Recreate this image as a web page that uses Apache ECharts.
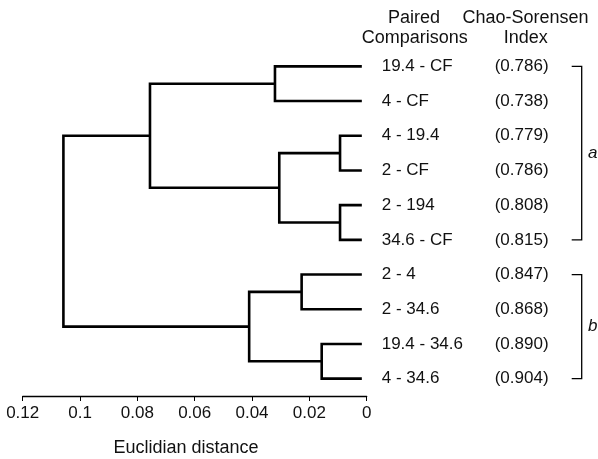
<!DOCTYPE html>
<html>
<head>
<meta charset="utf-8">
<script src="https://cdn.jsdelivr.net/npm/echarts@6/dist/echarts.min.js"></script>
<style>
  html, body { margin: 0; padding: 0; background: #fff; }
  #main { width: 598px; height: 459px; }
</style>
</head>
<body>
<div id="main"></div>
<script>
// leaves, top to bottom
const pairs = ['19.4 - CF', '4 - CF', '4 - 19.4', '2 - CF', '2 - 194', '34.6 - CF',
  '2 - 4', '2 - 34.6', '19.4 - 34.6', '4 - 34.6'];
const chaoSorensen = [0.786, 0.738, 0.779, 0.786, 0.808, 0.815, 0.847, 0.868, 0.890, 0.904];

// linkage rows: [child a, child b, distance]
// children < 10 are leaves, 10 + k is the node made by row k
const merges = [
  [0, 1, 0.032],
  [2, 3, 0.0093],
  [4, 5, 0.0093],
  [11, 12, 0.0305],
  [10, 13, 0.0756],
  [6, 7, 0.0227],
  [8, 9, 0.0157],
  [15, 16, 0.041],
  [14, 17, 0.1058]
];
const leafEnd = 0.0017; // leaf branches stop just short of 0

// bracketed groups: [label, first leaf, last leaf]
const groups = [['a', 0, 5], ['b', 6, 9]];

const FONT = '"Liberation Sans", Arial, sans-serif';
const INK = '#111';

// walk the linkage to get one elbow per merge
const nodeY = pairs.map((_, i) => i);
const nodeH = pairs.map(() => leafEnd);
const elbows = [];
merges.forEach(([a, b, h]) => {
  elbows.push([nodeH[a], nodeY[a], h, nodeY[b], nodeH[b]]);
  nodeY.push((nodeY[a] + nodeY[b]) / 2);
  nodeH.push(h);
});

// category axis: interpolate between neighbouring leaves for merged nodes
function toPx(api, x, y) {
  const lo = Math.floor(y);
  const hi = Math.min(lo + 1, pairs.length - 1);
  const p = api.coord([x, lo]);
  const q = api.coord([x, hi]);
  return [p[0], p[1] + (y - lo) * (q[1] - p[1])];
}

const myChart = echarts.init(document.getElementById('main'));

const option = {
  animation: false,
  textStyle: { fontFamily: FONT },
  grid: { left: 22.7, right: 231.3, top: 49, bottom: 63, outerBoundsMode: 'none' },
  xAxis: {
    type: 'value',
    inverse: true,
    min: 0,
    max: 0.12,
    interval: 0.02,
    axisLine: { show: true, lineStyle: { color: '#000', width: 1.3 } },
    axisTick: { show: true, length: 5, lineStyle: { color: '#000', width: 1 } },
    splitLine: { show: false },
    axisLabel: { fontSize: 17, color: INK, margin: 9, fontFamily: FONT }
  },
  yAxis: {
    type: 'category',
    data: pairs,
    inverse: true,
    position: 'right',
    axisLine: { show: false },
    axisTick: { show: false },
    splitLine: { show: false },
    axisLabel: {
      margin: 15,
      formatter: (v, i) => `{n|${v}}{c|(${chaoSorensen[i].toFixed(3)})}`,
      rich: {
        n: { width: 113, fontSize: 17, color: INK, fontFamily: FONT },
        c: { fontSize: 17, color: INK, fontFamily: FONT }
      }
    }
  },
  graphic: [
    { type: 'text', x: 414, y: 18, style: { text: 'Paired', font: '18px ' + FONT, fill: INK, textAlign: 'center', textVerticalAlign: 'middle' } },
    { type: 'text', x: 414.7, y: 38, style: { text: 'Comparisons', font: '18px ' + FONT, fill: INK, textAlign: 'center', textVerticalAlign: 'middle' } },
    { type: 'text', x: 525.5, y: 18, style: { text: 'Chao-Sorensen', font: '18px ' + FONT, fill: INK, textAlign: 'center', textVerticalAlign: 'middle' } },
    { type: 'text', x: 525.8, y: 38, style: { text: 'Index', font: '18px ' + FONT, fill: INK, textAlign: 'center', textVerticalAlign: 'middle' } },
    { type: 'text', x: 186, y: 448, style: { text: 'Euclidian distance', font: '18px ' + FONT, fill: INK, textAlign: 'center', textVerticalAlign: 'middle' } }
  ],
  series: [
    {
      type: 'custom',
      name: 'tree',
      dimensions: [
        { name: 'ha', type: 'float' }, { name: 'ya', type: 'float' },
        { name: 'h', type: 'float' }, { name: 'yb', type: 'float' },
        { name: 'hb', type: 'float' }
      ],
      encode: { x: [0, 2, 4], y: [1, 3] },
      data: elbows,
      renderItem: (params, api) => {
        const ha = api.value(0), ya = api.value(1), h = api.value(2);
        const yb = api.value(3), hb = api.value(4);
        return {
          type: 'polyline',
          shape: { points: [toPx(api, ha, ya), toPx(api, h, ya), toPx(api, h, yb), toPx(api, hb, yb)] },
          style: { stroke: '#000', lineWidth: 2.6, fill: null, lineJoin: 'miter', lineCap: 'butt' }
        };
      }
    },
    {
      type: 'custom',
      name: 'groups',
      data: groups.map(g => [0, g[1], g[2]]),
      encode: { x: 0, y: [1, 2] },
      renderItem: (params, api) => {
        const top = api.coord([0, api.value(1)]);
        const bot = api.coord([0, api.value(2)]);
        const xv = top[0] + 215;
        return {
          type: 'group',
          children: [
            {
              type: 'polyline',
              shape: { points: [[xv - 10, top[1]], [xv, top[1]], [xv, bot[1]], [xv - 10, bot[1]]] },
              style: { stroke: '#000', lineWidth: 1.3, fill: null }
            },
            {
              type: 'text',
              x: xv + 11, y: (top[1] + bot[1]) / 2,
              style: {
                text: groups[params.dataIndex][0],
                font: 'italic 17px ' + FONT, fill: INK,
                textAlign: 'center', textVerticalAlign: 'middle'
              }
            }
          ]
        };
      }
    }
  ]
};

myChart.setOption(option);
</script>
</body>
</html>
